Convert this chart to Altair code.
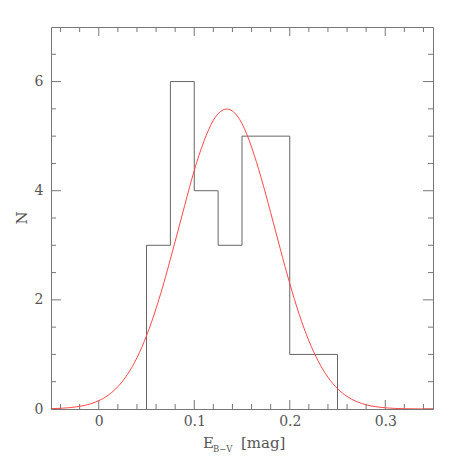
import altair as alt
import pandas as pd

# Histogram of E(B-V)
bin_edges = [0.05, 0.075, 0.1, 0.125, 0.15, 0.2, 0.25]
bin_counts = [3, 6, 4, 3, 5, 1]

# Fitted Gaussian curve
curve_x = [-0.05, -0.04, -0.03, -0.02, -0.01, 0.0, 0.01, 0.02, 0.03, 0.04,
           0.05, 0.06, 0.07, 0.08, 0.09, 0.10, 0.11, 0.12, 0.13, 0.14,
           0.15, 0.16, 0.17, 0.18, 0.19, 0.20, 0.21, 0.22, 0.23, 0.24,
           0.25, 0.26, 0.27, 0.28, 0.29, 0.30, 0.31, 0.32, 0.33, 0.34, 0.35]
curve_y = [0.006, 0.013, 0.025, 0.048, 0.087, 0.152, 0.254, 0.409, 0.632, 0.939,
           1.341, 1.840, 2.425, 3.07, 3.73, 4.37, 4.90, 5.29, 5.48, 5.46,
           5.23, 4.80, 4.24, 3.60, 2.94, 2.30, 1.73, 1.25, 0.871, 0.581,
           0.373, 0.230, 0.136, 0.077, 0.042, 0.022, 0.011, 0.005, 0.003, 0.001, 0.0]

# Tick positions / labels
x_major = [0.0, 0.1, 0.2, 0.3]
x_minor = [-0.04, -0.02, 0.02, 0.04, 0.06, 0.08, 0.12, 0.14, 0.16, 0.18,
           0.22, 0.24, 0.26, 0.28, 0.32, 0.34]
y_major = [0, 2, 4, 6]
y_minor = [0.5, 1, 1.5, 2.5, 3, 3.5, 4.5, 5, 5.5, 6.5]

W, H = 382, 382
FONT = "DejaVu Serif"
TXT = "#555555"
FRAME = "#777777"

xscale = alt.Scale(domain=[-0.05, 0.35], nice=False, zero=False)
yscale = alt.Scale(domain=[0, 7], nice=False, zero=False)
xaxis = alt.Axis(values=x_major, format="~g", ticks=False, domain=False, grid=False,
                 labelFont=FONT, labelFontSize=14, labelColor=TXT, labelPadding=5,
                 title=None, labelFlush=False)
yaxis = alt.Axis(values=y_major, format="~g", ticks=False, domain=False, grid=False,
                 labelFont=FONT, labelFontSize=14, labelColor=TXT, labelPadding=8,
                 title=None, labelFlush=False)

# histogram outline as step line
hx = [bin_edges[0]] + bin_edges[:-1] + [bin_edges[-1]]
hy = [0] + bin_counts + [0]
hist_df = pd.DataFrame({"x": hx, "y": hy, "o": list(range(len(hx)))})
curve_df = pd.DataFrame({"x": curve_x, "y": curve_y})

hist = alt.Chart(hist_df).mark_line(interpolate="step-after", color="#666666", strokeWidth=1).encode(
    x=alt.X("x:Q", scale=xscale, axis=xaxis),
    y=alt.Y("y:Q", scale=yscale, axis=yaxis),
    order="o:Q",
)

curve = alt.Chart(curve_df).mark_line(interpolate="natural", color="#ff4a4a", strokeWidth=1, clip=True).encode(
    x=alt.X("x:Q", scale=xscale, axis=xaxis),
    y=alt.Y("y:Q", scale=yscale, axis=yaxis),
)

def xticks(vals, y0, y1):
    return alt.Chart(pd.DataFrame({"v": vals})).mark_rule(color=FRAME, strokeWidth=1).encode(
        x=alt.X("v:Q", scale=xscale, axis=xaxis), y=alt.value(y0), y2=alt.value(y1))

def yticks(vals, x0, x1):
    return alt.Chart(pd.DataFrame({"v": vals})).mark_rule(color=FRAME, strokeWidth=1).encode(
        y=alt.Y("v:Q", scale=yscale, axis=yaxis), x=alt.value(x0), x2=alt.value(x1))

ticks = [
    xticks(x_major, H, H - 9), xticks(x_minor, H, H - 5),
    xticks(x_major, 0, 9), xticks(x_minor, 0, 5),
    yticks(y_major, 0, 10), yticks(y_minor, 0, 5),
    yticks(y_major, W, W - 10), yticks(y_minor, W, W - 5),
]

def label(text, x, y, size, angle=0, align="left", baseline="alphabetic"):
    return alt.Chart(pd.DataFrame({"t": [text]})).mark_text(
        font=FONT, fontSize=size, color=TXT, align=align, baseline=baseline, angle=angle
    ).encode(x=alt.value(x), y=alt.value(y), text="t:N")

titles = [
    label("E", 152, 421, 15),
    label("B\u2212V", 162, 425, 8.5),
    label("[mag]", 190, 421, 15),
    label("N", -29, 191, 15, angle=270, align="center", baseline="middle"),
]

chart = alt.layer(*ticks, hist, curve, *titles).properties(
    width=W, height=H,
    autosize=alt.AutoSizeParams(type="none"),
    padding={"left": 43, "top": 19, "right": 20, "bottom": 45},
).configure_view(stroke=FRAME, strokeWidth=1)

chart.save("out.html", embed_options={"renderer": "svg", "actions": False})
